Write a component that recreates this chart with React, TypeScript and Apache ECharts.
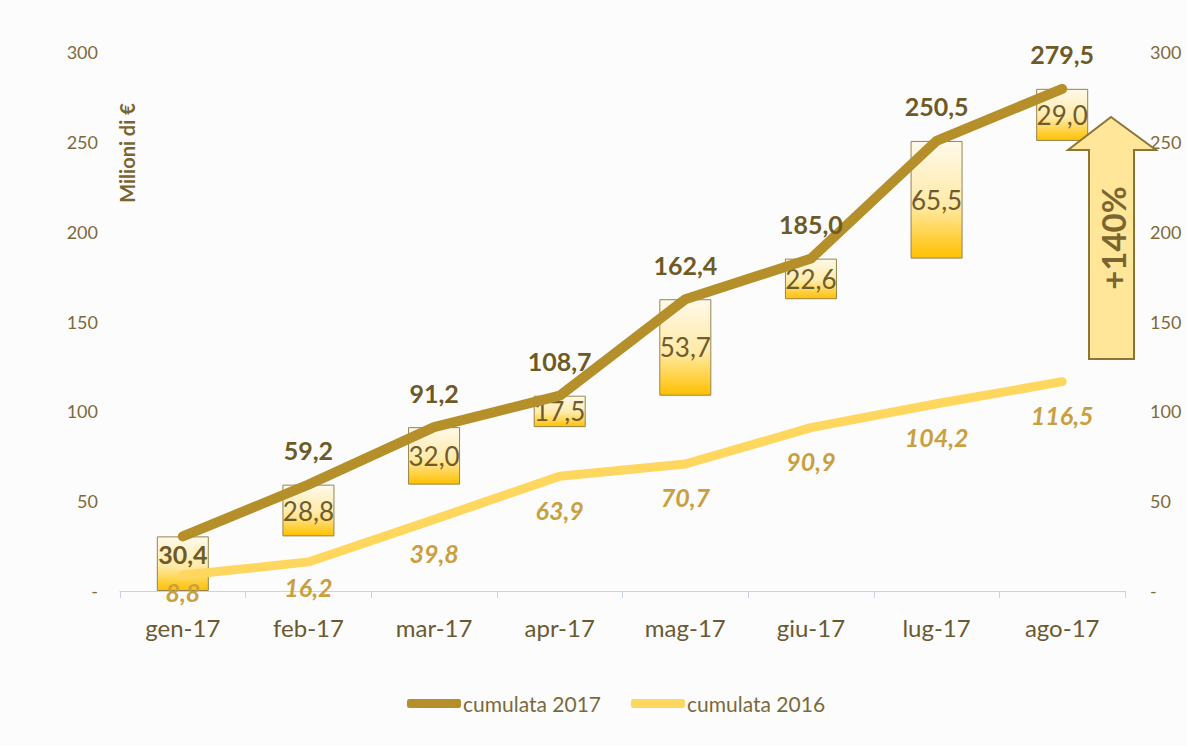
import React, { useEffect, useRef } from "react";
import * as echarts from "echarts";

const categories = ["gen-17", "feb-17", "mar-17", "apr-17", "mag-17", "giu-17", "lug-17", "ago-17"];
const monthly2017 = [30.4, 28.8, 32.0, 17.5, 53.7, 22.6, 65.5, 29.0];
const cumulative2017 = [30.4, 59.2, 91.2, 108.7, 162.4, 185.0, 250.5, 279.5];
const cumulative2016 = [8.8, 16.2, 39.8, 63.9, 70.7, 90.9, 104.2, 116.5];
const yTickValues = [0, 50, 100, 150, 200, 250, 300];
const growthLabel = "+140%";
const yAxisName = "Milioni di €";

const FONT = "Lato, 'Open Sans', sans-serif";
const fmt = (v: number) => v.toFixed(1).replace(".", ",");
const tickFmt = (v: number) => (v === 0 ? "-" : String(v));

export default function App() {
  const ref = useRef<HTMLDivElement>(null);
  useEffect(() => {
    if (!ref.current) return;
    const chart = echarts.init(ref.current, null, { renderer: "svg" });
    const base = cumulative2017.map((_, i) => (i === 0 ? 0 : cumulative2017[i - 1]));
    const yMax = yTickValues[yTickValues.length - 1];
    const yInt = yTickValues[1] - yTickValues[0];
    const axisLabelStyle = { color: "#7F6A3A", fontSize: 18, fontFamily: FONT };
    chart.setOption({
      animation: false,
      backgroundColor: "#FCFCFD",
      textStyle: { fontFamily: FONT },
      grid: { left: 120, right: 62, top: 52, bottom: 155 },
      legend: {
        data: ["cumulata 2017", "cumulata 2016"],
        top: 688,
        left: 402,
        icon: "roundRect",
        itemWidth: 54,
        itemHeight: 9,
        itemGap: 30,
        textStyle: { fontSize: 21, color: "#7A6A3A", fontFamily: FONT, padding: [0, 0, 0, -3] },
      },
      xAxis: {
        type: "category",
        data: categories,
        axisLine: { lineStyle: { color: "#C5D5E5", width: 1 } },
        axisTick: { show: true, length: 7, lineStyle: { color: "#C5D5E5" } },
        axisLabel: { fontSize: 24, color: "#6B5A30", margin: 24, fontFamily: FONT },
      },
      yAxis: [
        {
          type: "value", min: 0, max: yMax, interval: yInt,
          axisLine: { show: false }, axisTick: { show: false }, splitLine: { show: false },
          axisLabel: { ...axisLabelStyle, margin: 22, formatter: tickFmt },
        },
        {
          type: "value", min: 0, max: yMax, interval: yInt, position: "right",
          axisLine: { show: false }, axisTick: { show: false }, splitLine: { show: false },
          axisLabel: { ...axisLabelStyle, margin: 25, formatter: tickFmt },
        },
      ],
      series: [
        {
          name: "base",
          type: "bar",
          stack: "wf",
          data: base,
          barWidth: 52,
          itemStyle: { color: "transparent" },
          silent: true,
        },
        {
          name: "mensile",
          type: "bar",
          stack: "wf",
          barWidth: 52,
          data: monthly2017.map((v, i) => ({
            value: v,
            label: { show: i !== 0 },
          })),
          itemStyle: {
            color: new echarts.graphic.LinearGradient(0, 0, 0, 1, [
              { offset: 0, color: "#FFF9EA" },
              { offset: 0.55, color: "#FFEAA6" },
              { offset: 1, color: "#FFC000" },
            ]),
            borderColor: "#95844E",
            borderWidth: 1,
          },
          label: {
            show: true,
            position: "inside",
            fontSize: 26,
            color: "#6E5C2E",
            fontFamily: FONT,
            formatter: (p: any) => fmt(p.value),
          },
          z: 2,
        },
        {
          name: "cumulata 2016",
          type: "line",
          data: cumulative2016.map((v, i) => ({
            value: v,
            label: { distance: i === 0 ? 3 : i === 1 ? 12 : 20 },
          })),
          symbol: "circle",
          symbolSize: 2,
          showSymbol: true,
          lineStyle: { color: "#FFD75E", width: 9, cap: "round", join: "round" },
          itemStyle: { color: "#FFD75E" },
          label: {
            show: true,
            position: "bottom",
            fontSize: 25,
            fontStyle: "italic",
            fontWeight: "bold",
            color: "#C9A040",
            fontFamily: FONT,
            formatter: (p: any) => fmt(p.value),
          },
          z: 4,
        },
        {
          name: "cumulata 2017",
          type: "line",
          data: cumulative2017.map((v, i) => ({
            value: v,
            label: i === 0 ? { position: "bottom", distance: 4 } : { position: "top", distance: 21 },
          })),
          symbol: "circle",
          symbolSize: 2,
          showSymbol: true,
          lineStyle: { color: "#B58F2A", width: 10, cap: "round", join: "round" },
          itemStyle: { color: "#B58F2A" },
          label: {
            show: true,
            fontSize: 25,
            fontWeight: "bold",
            color: "#6E5A25",
            fontFamily: FONT,
            formatter: (p: any) => fmt(p.value),
          },
          z: 5,
        },
      ],
      graphic: [
        {
          type: "text",
          x: 127,
          y: 153,
          rotation: Math.PI / 2,
          style: {
            text: yAxisName,
            fontSize: 20,
            fontWeight: "bold",
            fill: "#7A6530",
            fontFamily: FONT,
            align: "center",
            verticalAlign: "middle",
          },
        },
        {
          type: "polygon",
          shape: {
            points: [
              [1111, 117], [1156, 150], [1134, 150], [1134, 359],
              [1089, 359], [1089, 150], [1068, 150],
            ],
          },
          style: { fill: "#FFE699", stroke: "#8C7636", lineWidth: 2 },
          z: 10,
        },
        {
          type: "text",
          x: 1113,
          y: 238,
          rotation: Math.PI / 2,
          style: {
            text: growthLabel,
            fontSize: 33,
            fontWeight: "bold",
            fill: "#7A6530",
            fontFamily: FONT,
            align: "center",
            verticalAlign: "middle",
          },
          z: 11,
        },
      ],
    });
    return () => chart.dispose();
  }, []);
  return (
    <div
      ref={ref}
      style={{ position: "fixed", left: 0, top: 0, width: 1187, height: 746 }}
    />
  );
}
